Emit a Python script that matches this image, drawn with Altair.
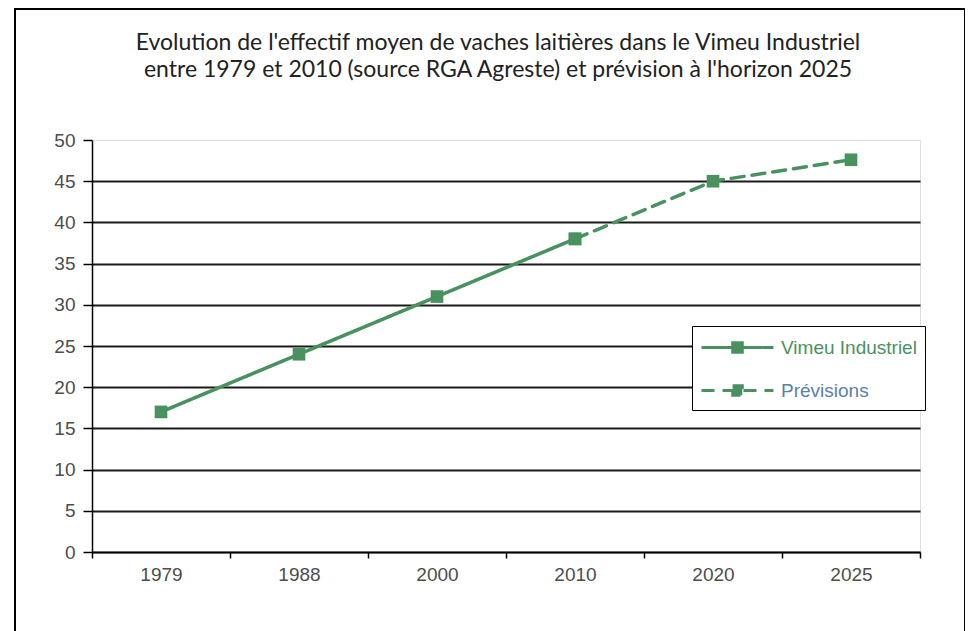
import altair as alt
import pandas as pd

years = ["1979", "1988", "2000", "2010", "2020", "2025"]
obs_years = ["1979", "1988", "2000", "2010"]
obs_values = [17, 24, 31, 38]
prev_years = ["2010", "2020", "2025"]
prev_values = [38, 45, 47.6]
series_names = ["Vimeu Industriel", "Prévisions"]
y_ticks = [0, 5, 10, 15, 20, 25, 30, 35, 40, 45, 50]
title_lines = [
    "Evolution de l'effectif moyen de vaches laitières dans le Vimeu Industriel",
    "entre 1979 et 2010 (source RGA Agreste) et prévision à l'horizon  2025",
]

rows = [{"annee": a, "valeur": v, "serie": series_names[0]} for a, v in zip(obs_years, obs_values)]
rows += [{"annee": a, "valeur": v, "serie": series_names[1]} for a, v in zip(prev_years, prev_values)]
df = pd.DataFrame(rows)

GREEN = "#4a9160"
LABEL = "#4d4d4d"
W, H = 828, 412

x_enc = alt.X(
    "annee:O",
    sort=years,
    scale=alt.Scale(type="band", domain=years, paddingInner=0, paddingOuter=0),
    bandPosition=0.5,
    axis=alt.Axis(
        title=None, labelAngle=0, tickBand="extent", domainColor="black", domainWidth=1.5,
        tickColor="black", tickWidth=1.5, tickSize=6, labelPadding=7, labelFontSize=19,
        labelColor=LABEL, labelFont="Liberation Sans", grid=False,
    ),
)
y_enc = alt.Y(
    "valeur:Q",
    scale=alt.Scale(domain=[0, 50], nice=False),
    axis=alt.Axis(
        title=None, values=y_ticks, domainColor="black", domainWidth=1.5, tickColor="black",
        tickWidth=1.5, tickSize=9, labelPadding=8, labelFontSize=19, labelColor=LABEL,
        labelFont="Liberation Sans", grid=True, gridColor="#1a1a1a", gridWidth=1.8,
        gridOpacity=alt.condition("datum.value == 50", alt.value(0), alt.value(1)),
    ),
)

color = alt.Color(
    "serie:N",
    scale=alt.Scale(domain=series_names, range=[GREEN, GREEN]),
    legend=alt.Legend(
        title=None, orient="none", legendX=600, legendY=186,
        symbolType="M-1,0H5M1.6,-0.4H2.4V0.4H1.6Z",
        symbolSize=576, symbolStrokeWidth=3, symbolFillColor=GREEN,
        labelFontSize=19, labelFont="Liberation Sans", labelLimit=220,
        labelColor={"expr": "datum.label == 'Vimeu Industriel' ? '#4a9160' : '#5a7fae'"},
        strokeColor="black", fillColor="white", padding=8, rowPadding=18, labelOffset=54,
        cornerRadius=0,
    ),
)
dash = alt.StrokeDash(
    "serie:N",
    scale=alt.Scale(domain=series_names, range=[[1, 0], [13, 8]]),
    legend=None,
)

lines = alt.Chart(df).mark_line(strokeWidth=3.5, strokeCap="round").encode(
    x=x_enc, y=y_enc, color=color, strokeDash=dash, detail="serie:N"
)
points = alt.Chart(df).mark_point(shape="square", filled=True, size=160, opacity=1, color=GREEN).encode(
    x=x_enc, y=y_enc
)
frame = alt.Chart(df).mark_rect(fill=None, stroke="black", strokeWidth=1.5).encode(
    x=alt.value(-77), x2=alt.value(W + 45), y=alt.value(-131), y2=alt.value(H + 100)
)

chart = alt.layer(frame, lines, points).properties(
    width=W, height=H,
    title=alt.TitleParams(
        text=title_lines, anchor="middle", fontSize=23, font="Lato", fontWeight="normal",
        color="#222222", offset=0, lineHeight=27, dx=-8, dy=92, baseline="alphabetic",
    ),
    autosize=alt.AutoSizeParams(type="none"),
    padding={"left": 84, "top": 132, "right": 45, "bottom": 79},
).configure_view(stroke=None).configure(background="white")

chart.save("out.html", embed_options={"renderer": "svg", "actions": False})
